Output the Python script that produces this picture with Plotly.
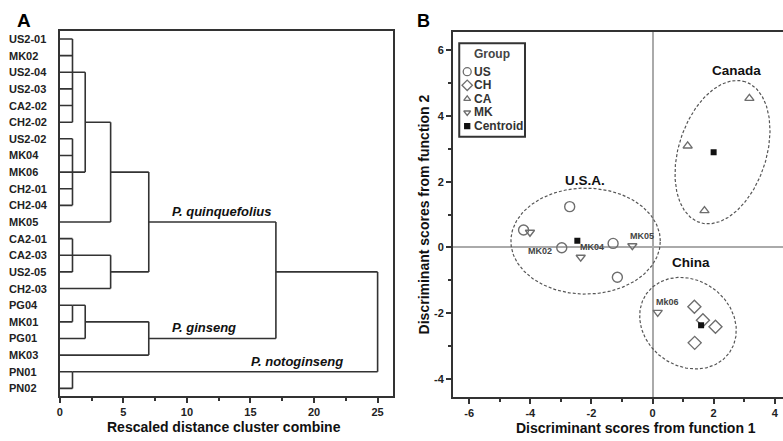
import numpy as np
import plotly.graph_objects as go

# ---------------- data ----------------
leaves = ["US2-01", "MK02", "US2-04", "US2-03", "CA2-02", "CH2-02", "US2-02", "MK04",
          "MK06", "CH2-01", "CH2-04", "MK05", "CA2-01", "CA2-03", "US2-05", "CH2-03",
          "PG04", "MK01", "PG01", "MK03", "PN01", "PN02"]
# merges: children (leaf names or earlier merge index "c#") and rescaled distance
merge_children = [
    ["US2-01", "MK02", "US2-04", "US2-03", "CA2-02", "CH2-02"],  # c0
    ["US2-02", "MK04", "MK06", "CH2-01", "CH2-04"],              # c1
    ["c0", "c1"],                                                # c2
    ["c2", "MK05"],                                              # c3
    ["CA2-01", "CA2-03", "US2-05"],                              # c4
    ["c4", "CH2-03"],                                            # c5
    ["c3", "c5"],                                                # c6
    ["PG04", "MK01"],                                            # c7
    ["c7", "PG01"],                                              # c8
    ["c8", "MK03"],                                              # c9
    ["c6", "c9"],                                                # c10
    ["PN01", "PN02"],                                            # c11
    ["c10", "c11"],                                              # c12
]
merge_heights = [1, 1, 2, 4, 1, 4, 7, 1, 2, 7, 17, 1, 25]
clade_names = ["P. quinquefolius", "P. ginseng", "P. notoginseng"]

us_x = [-4.22, -2.71, -2.97, -1.29, -1.15]
us_y = [0.53, 1.24, -0.01, 0.12, -0.91]
ch_x = [1.37, 1.65, 2.06, 1.38]
ch_y = [-1.81, -2.22, -2.42, -2.91]
ca_x = [3.17, 1.15, 1.70]
ca_y = [4.54, 3.09, 1.12]
mk_names = ["MK02", "MK04", "MK05", "Mk06"]
mk_x = [-4.01, -2.35, -0.66, 0.17]
mk_y = [0.46, -0.30, 0.05, -1.98]
cen_x = [-2.46, 2.00, 1.59]
cen_y = [0.20, 2.90, -2.37]
region_names = ["U.S.A.", "Canada", "China"]
legend_names = ["US", "CH", "CA", "MK", "Centroid"]

# ---------------- layout helpers ----------------
W, H = 783, 441
def fx(p): return p / W
def fy(p): return 1 - p / H

FONT = "Liberation Sans, Arial, sans-serif"
MK_GRAY = "#6e6e6e"

A_dom_x = [fx(57), fx(392)]
A_dom_y = [fy(395.7), fy(31)]
A_rng_x = [0, 26.25]
A_rng_y = [21.44, -0.48]

B_dom_x = [fx(451.7), 1.0]
B_dom_y = [fy(396.7), fy(31.7)]
B_rng_x = [-6.53, 4.27]
B_rng_y = [-4.55, 6.57]
sx = (B_dom_x[1] - B_dom_x[0]) * W / (B_rng_x[1] - B_rng_x[0])
sy = (B_dom_y[1] - B_dom_y[0]) * H / (B_rng_y[1] - B_rng_y[0])

fig = go.Figure()

# ---------------- dendrogram ----------------
row = {n: i for i, n in enumerate(leaves)}
height = {n: 0 for n in leaves}
lx, ly = [], []
for k, (kids, h) in enumerate(zip(merge_children, merge_heights)):
    rows = [row[c] for c in kids]
    for c in kids:
        lx += [height[c], h, None]
        ly += [row[c], row[c], None]
    lx += [h, h, None]
    ly += [min(rows), max(rows), None]
    name = "c%d" % k
    row[name] = int(np.floor(np.mean(rows)))
    height[name] = h

fig.add_trace(go.Scatter(x=lx, y=ly, mode="lines", line=dict(color="#333", width=1.6),
                         xaxis="x", yaxis="y", showlegend=False, hoverinfo="skip"))

annotations = []
for n in leaves:
    annotations.append(dict(x=fx(4), y=row[n], xref="paper", yref="y", text="<b>%s</b>" % n,
                            xanchor="left", yanchor="middle", showarrow=False,
                            font=dict(family=FONT, size=11, color="#222")))
clade_pos = [(16.8, row["c6"]), (14.0, row["c9"]), (22.4, row["c11"])]
for name, (cx, cr) in zip(clade_names, clade_pos):
    annotations.append(dict(x=cx, y=cr, xref="x", yref="y", text="<b><i>%s</i></b>" % name,
                            xanchor="right", yanchor="bottom", yshift=1, showarrow=False,
                            font=dict(family=FONT, size=13, color="#111")))

# ---------------- discriminant plot ----------------
def ellipse(cx, cy, a_px, b_px, ang_deg):
    t = np.linspace(0, 2 * np.pi, 240)
    th = np.radians(ang_deg)
    px = a_px * np.cos(t) * np.cos(th) - b_px * np.sin(t) * np.sin(th)
    py = a_px * np.cos(t) * np.sin(th) + b_px * np.sin(t) * np.cos(th)
    return cx + px / sx, cy + py / sy

ellipses = [(-2.19, 0.19, 75, 53, 0), (2.29, 2.90, 74, 44, 72), (1.16, -2.31, 51, 43, -35)]
for (cx, cy, a, b, ang) in ellipses:
    ex, ey = ellipse(cx, cy, a, b, ang)
    fig.add_trace(go.Scatter(x=ex, y=ey, mode="lines", xaxis="x2", yaxis="y2",
                             line=dict(color="#555", width=1.2, dash="3px,2px"),
                             showlegend=False, hoverinfo="skip"))

mstyle = dict(color=MK_GRAY, line=dict(color=MK_GRAY, width=1.4))
fig.add_trace(go.Scatter(x=us_x, y=us_y, mode="markers", xaxis="x2", yaxis="y2", showlegend=False,
                         marker=dict(symbol="circle-open", size=10, **mstyle)))
fig.add_trace(go.Scatter(x=ch_x, y=ch_y, mode="markers", xaxis="x2", yaxis="y2", showlegend=False,
                         marker=dict(symbol="diamond-open", size=10, **mstyle)))
fig.add_trace(go.Scatter(x=ca_x, y=ca_y, mode="markers", xaxis="x2", yaxis="y2", showlegend=False,
                         marker=dict(symbol="triangle-up-open", size=8, **mstyle)))
fig.add_trace(go.Scatter(x=mk_x, y=mk_y, mode="markers", xaxis="x2", yaxis="y2", showlegend=False,
                         marker=dict(symbol="triangle-down-open", size=8, **mstyle)))
fig.add_trace(go.Scatter(x=cen_x, y=cen_y, mode="markers", xaxis="x2", yaxis="y2", showlegend=False,
                         marker=dict(symbol="square", size=6, color="#111")))

mk_shift = [(-4, -19), (-3, 10), (-4, 10), (-4, 10)]
for n, x, y, (dx, dy) in zip(mk_names, mk_x, mk_y, mk_shift):
    annotations.append(dict(x=x, y=y, xref="x2", yref="y2", text="<b>%s</b>" % n,
                            xanchor="left", yanchor="middle", xshift=dx, yshift=dy,
                            showarrow=False, font=dict(family=FONT, size=9, color="#444")))

region_pos = [(-2.22, 2.05), (2.74, 5.40), (1.27, -0.45)]
for n, (x, y) in zip(region_names, region_pos):
    annotations.append(dict(x=x, y=y, xref="x2", yref="y2", text="<b>%s</b>" % n,
                            xanchor="center", yanchor="middle", showarrow=False,
                            font=dict(family=FONT, size=13.5, color="#111")))

# ---------------- manual legend (pixel overlay axis) ----------------
leg_sym = ["circle-open", "diamond-open", "triangle-up-open", "triangle-down-open", "square"]
leg_size = [8, 8, 6, 6, 5]
leg_col = [MK_GRAY, MK_GRAY, MK_GRAY, MK_GRAY, "#111"]
leg_y0, leg_dy = 71.7, 13.6
for i, (n, s, sz, c) in enumerate(zip(legend_names, leg_sym, leg_size, leg_col)):
    yy = leg_y0 + i * leg_dy
    fig.add_trace(go.Scatter(x=[466], y=[yy], mode="markers", xaxis="x3", yaxis="y3",
                             showlegend=False, hoverinfo="skip",
                             marker=dict(symbol=s, size=sz, color=c, line=dict(color=c, width=1.3))))
    annotations.append(dict(x=fx(471), y=fy(yy), xref="paper", yref="paper", text="<b>%s</b>" % n,
                            xanchor="left", yanchor="middle", showarrow=False,
                            font=dict(family=FONT, size=12, color="#333")))
annotations.append(dict(x=fx(491), y=fy(54), xref="paper", yref="paper", text="<b>Group</b>",
                        xanchor="center", yanchor="middle", showarrow=False,
                        font=dict(family=FONT, size=12, color="#444")))

shapes = [dict(type="rect", xref="paper", yref="paper", x0=fx(458), x1=fx(524),
               y0=fy(136.7), y1=fy(43.3), line=dict(color="#333", width=2))]

# panel letters and axis titles
annotations += [
    dict(x=fx(12), y=fy(20), xref="paper", yref="paper", text="<b>A</b>", xanchor="left",
         yanchor="middle", showarrow=False, font=dict(family=FONT, size=19, color="#000")),
    dict(x=fx(414), y=fy(21), xref="paper", yref="paper", text="<b>B</b>", xanchor="left",
         yanchor="middle", showarrow=False, font=dict(family=FONT, size=18, color="#000")),
    dict(x=fx(222), y=fy(427), xref="paper", yref="paper", text="<b>Rescaled distance cluster combine</b>",
         xanchor="center", yanchor="middle", showarrow=False, font=dict(family=FONT, size=14, color="#111")),
    dict(x=fx(635), y=fy(428), xref="paper", yref="paper", text="<b>Discriminant scores from function 1</b>",
         xanchor="center", yanchor="middle", showarrow=False, font=dict(family=FONT, size=14, color="#111")),
    dict(x=fx(423), y=fy(214), xref="paper", yref="paper", text="<b>Discriminant scores from function 2</b>",
         xanchor="center", yanchor="middle", textangle=-90, showarrow=False,
         font=dict(family=FONT, size=14, color="#111")),
]

tickfont = dict(family=FONT, size=11, color="#222")
fig.update_layout(
    width=W, height=H, margin=dict(l=0, r=0, t=0, b=0),
    paper_bgcolor="white", plot_bgcolor="rgba(0,0,0,0)",
    showlegend=False,
    xaxis=dict(domain=A_dom_x, range=A_rng_x, anchor="y", showgrid=False, zeroline=False,
               showline=True, linecolor="#333", linewidth=2, mirror=True,
               ticks="outside", ticklen=5, tickwidth=1.5, tickcolor="#333",
               tickvals=[0, 5, 10, 15, 20, 25], ticktext=["<b>%d</b>" % v for v in [0, 5, 10, 15, 20, 25]],
               minor=dict(tickvals=[2.5, 7.5, 12.5, 17.5, 22.5], ticklen=3, tickwidth=1.5,
                          tickcolor="#333", ticks="outside", showgrid=False),
               tickfont=tickfont),
    yaxis=dict(domain=A_dom_y, range=A_rng_y, anchor="x", showgrid=False, zeroline=False,
               showline=True, linecolor="#333", linewidth=2, mirror=True,
               showticklabels=False, ticks=""),
    xaxis2=dict(domain=B_dom_x, range=B_rng_x, anchor="y2", showgrid=False,
                zeroline=True, zerolinecolor="#aaa", zerolinewidth=1.5,
                showline=True, linecolor="#333", linewidth=2, mirror=True,
                ticks="outside", ticklen=5, tickwidth=1.5, tickcolor="#333",
                tickvals=[-6, -4, -2, 0, 2, 4], ticktext=["<b>%d</b>" % v for v in [-6, -4, -2, 0, 2, 4]],
                minor=dict(tickvals=[-5, -3, -1, 1, 3], ticklen=3, tickwidth=1.5,
                           tickcolor="#333", ticks="outside", showgrid=False),
                tickfont=tickfont),
    yaxis2=dict(domain=B_dom_y, range=B_rng_y, anchor="x2", showgrid=False,
                zeroline=True, zerolinecolor="#aaa", zerolinewidth=1.5,
                showline=True, linecolor="#333", linewidth=2, mirror=False,
                ticks="outside", ticklen=5, tickwidth=1.5, tickcolor="#333",
                tickvals=[-4, -2, 0, 2, 4, 6], ticktext=["<b>%d</b>" % v for v in [-4, -2, 0, 2, 4, 6]],
                minor=dict(tickvals=[-3, -1, 1, 3, 5], ticklen=3, tickwidth=1.5,
                           tickcolor="#333", ticks="outside", showgrid=False),
                tickfont=tickfont),
    xaxis3=dict(domain=[0, 1], range=[0, W], anchor="y3", visible=False, fixedrange=True),
    yaxis3=dict(domain=[0, 1], range=[H, 0], anchor="x3", visible=False, fixedrange=True),
    annotations=annotations, shapes=shapes,
)

fig.write_html("out.html", config={"displayModeBar": False},
               post_script="document.body.style.margin='0px';document.body.style.overflow='hidden';")
